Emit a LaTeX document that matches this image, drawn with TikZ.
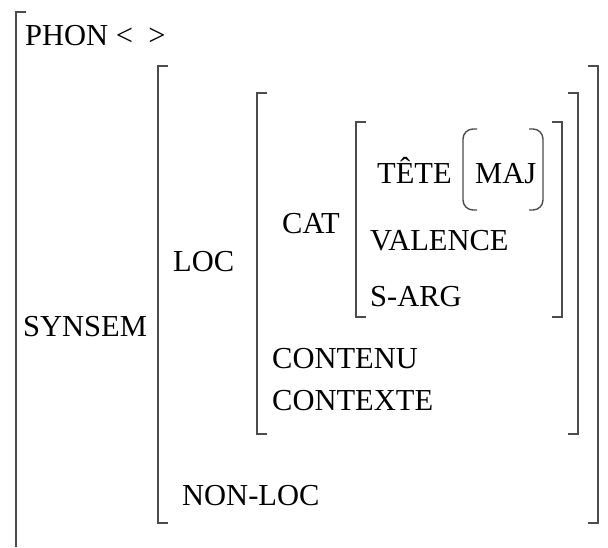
\documentclass[tikz,border=0pt]{standalone}
\usepackage{fontspec}
\setmainfont{Liberation Serif}
\begin{document}
\begin{tikzpicture}[x=1pt,y=-1pt,
  lbl/.style={anchor=base west,inner sep=0pt,font=\fontsize{30.5}{36}\selectfont},
  brk/.style={draw=black!70,line width=1.4pt},
  par/.style={draw=black!70,line width=1.4pt,rounded corners=10pt}]
\useasboundingbox (0,0) rectangle (608,547);
% outer bracket
\draw[brk] (26,12) -- (16,12) -- (16,547);
% SYNSEM bracket
\draw[brk] (168,66) -- (158,66) -- (158,523) -- (168,523);
\draw[brk] (588,66) -- (598,66) -- (598,523) -- (588,523);
% LOC bracket
\draw[brk] (267,93) -- (257,93) -- (257,434) -- (267,434);
\draw[brk] (568,93) -- (578,93) -- (578,434) -- (568,434);
% CAT bracket
\draw[brk] (366,122) -- (356,122) -- (356,317) -- (366,317);
\draw[brk] (552,122) -- (562,122) -- (562,317) -- (552,317);
% MAJ parentheses
\draw[par] (477,129) -- (463,129) -- (463,210) -- (477,210);
\draw[par] (529,129) -- (543,129) -- (543,210) -- (529,210);
% labels
\node[lbl] (phon) at (25,45) {PHON < \ >};
\node[lbl] (synsem) at (23,336) {SYNSEM};
\node[lbl] (loc) at (173,271) {LOC};
\node[lbl] (cat) at (282,233) {CAT};
\node[lbl] (tete) at (377,183) {TÊTE};
\node[lbl] (maj) at (475,183) {MAJ};
\node[lbl] (valence) at (370,250) {VALENCE};
\node[lbl] (sarg) at (370,306) {S-ARG};
\node[lbl] (contenu) at (272,368) {CONTENU};
\node[lbl] (contexte) at (272,410) {CONTEXTE};
\node[lbl] (nonloc) at (182,505) {NON-LOC};
\end{tikzpicture}
\end{document}
